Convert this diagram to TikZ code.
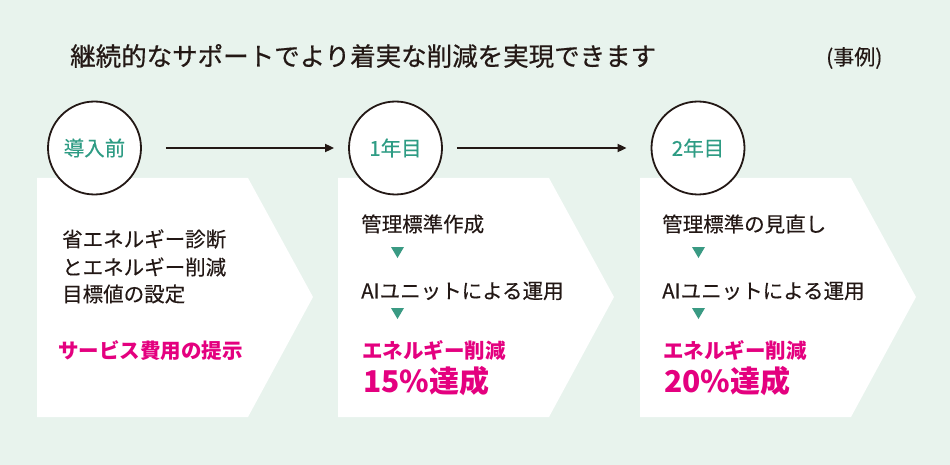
\documentclass[tikz,border=0pt]{standalone}
\usepackage{fontspec}
\newfontfamily\jp{Noto Sans CJK JP}
\newfontfamily\jpm[FakeBold=0.6]{Noto Sans CJK JP}
\newfontfamily\jpb[FakeBold=0.25]{Noto Sans CJK JP}
\usetikzlibrary{arrows.meta}
\definecolor{bgc}{HTML}{E8F3ED}
\definecolor{tealtxt}{HTML}{2E9C84}
\definecolor{tealtri}{HTML}{3A9A83}
\definecolor{mag}{HTML}{E4007F}
\definecolor{ink}{HTML}{231815}
\tikzset{
  circ/.style={circle, draw=ink, line width=1.8pt, fill=white, minimum size=93pt, inner sep=0pt, text=tealtxt, font=\jpb\fontsize{20.5}{20.5}\selectfont},
  txt/.style={anchor=west, inner sep=0pt, text=ink, font=\jpb\fontsize{20.5}{20.5}\selectfont},
  ptxt/.style={anchor=west, inner sep=0pt, text=mag, font=\jp\bfseries\fontsize{20.5}{20.5}\selectfont},
  bigtxt/.style={anchor=west, inner sep=0pt, text=mag, font=\jp\bfseries\fontsize{30}{30}\selectfont},
  arr/.style={draw=ink, line width=1.8pt, -{Triangle[length=9pt,width=8pt]}},
  pent/.style={fill=white},
  tri/.style={fill=tealtri}
}
\begin{document}
\begin{tikzpicture}[x=1pt,y=-1pt]
\fill[bgc] (0,0) rectangle (950,465);
\useasboundingbox (0,0) rectangle (950,465);
% title
\node[anchor=west, inner sep=0pt, text=ink, font=\jpm\fontsize{25.5}{25.5}\selectfont] (title) at (70,56) {継続的なサポートでより着実な削減を実現できます};
\node[anchor=west, inner sep=0pt, text=ink, font=\jpb\fontsize{21}{21}\selectfont] (rei) at (826,58) {(事例)};
% boxes
\fill[pent] (37,178) -- (248,178) -- (313,297) -- (248,417) -- (37,417) -- cycle;
\fill[pent] (338,178) -- (549,178) -- (614,297) -- (549,417) -- (338,417) -- cycle;
\fill[pent] (640,178) -- (851,178) -- (916,297) -- (851,417) -- (640,417) -- cycle;
% circles
\node[circ] (c1) at (94.5,148) {導入前};
\node[circ] (c2) at (395.5,148) {1年目};
\node[circ] (c3) at (698,148) {2年目};
\draw[arr, shorten <=24pt, shorten >=14pt] (c1) -- (c2);
\draw[arr, shorten <=14pt, shorten >=24pt] (c2) -- (c3);
% box 1 text
\node[txt] (a1) at (62,239) {省エネルギー診断};
\node[txt] (a2) at (62,267) {とエネルギー削減};
\node[txt] (a3) at (62,294) {目標値の設定};
\node[ptxt] (a4) at (58,351) {サービス費用の提示};
% box 2 text
\node[txt] (b1) at (361,224) {管理標準作成};
\fill[tri] (391,247) -- (404,247) -- (397.5,258) -- cycle;
\node[txt] (b2) at (361,291) {AIユニットによる運用};
\fill[tri] (391,308) -- (404,308) -- (397.5,319) -- cycle;
\node[ptxt] (b3) at (362,350) {エネルギー削減};
\node[bigtxt] (b4) at (363,381) {15\%達成};
% box 3 text
\node[txt] (d1) at (662,224) {管理標準の見直し};
\fill[tri] (692,247) -- (705,247) -- (698.5,258) -- cycle;
\node[txt] (d2) at (662,291) {AIユニットによる運用};
\fill[tri] (692,308) -- (705,308) -- (698.5,319) -- cycle;
\node[ptxt] (d3) at (663,350) {エネルギー削減};
\node[bigtxt] (d4) at (664,381) {20\%達成};
\end{tikzpicture}
\end{document}
